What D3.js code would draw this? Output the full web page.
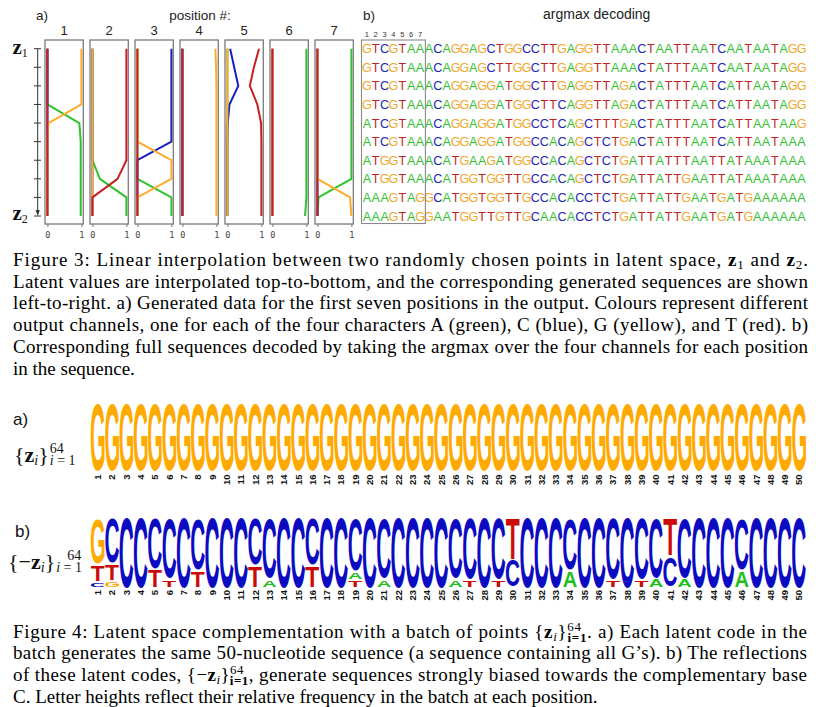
<!DOCTYPE html>
<html><head><meta charset="utf-8">
<script src="https://cdn.jsdelivr.net/npm/d3@7"></script>
<style>body{margin:0;background:#fff}svg{display:block}</style>
</head><body>
<svg id="chart" width="816" height="707"></svg>
<script>
// ---------------- DATA ----------------
const steps = [0,1,2,3,4,5,6,7,8,9];
const positions7 = [1,2,3,4,5,6,7];
const axisTickValues = [0,1];
// channel values per position (rows = positions 1..7, columns = interpolation steps z1..z2)
const interpA = [
  [0,0,0,0,0.94,0.98,0.98,0.98,0.98,0.98],
  [0,0,0,0,0,0,0,0.22,1,1],
  [0,0,0,0,0,0,0,0,1,1],
  [0,0,0,0,0,0,0,0,0,0],
  [0,0,0,0,0,0,0,0,0,0],
  [1,1,1,1,1,1,1,1,1,0.96],
  [1,1,1,1,1,1,1,1,0.03,0.01]
];
const interpC = [
  [0,0,0,0,0,0,0,0,0,0],
  [0,0,0,0,0,0,0,0,0,0],
  [1,1,1,1,1,1,0,0,0,0],
  [0,0,0,0,0,0,0,0,0,0],
  [0.08,0.2,0.32,0.06,0.01,0,0,0,0,0],
  [0,0,0,0,0,0,0,0,0,0],
  [0,0,0,0,0,0,0,0,0,0]
];
const interpG = [
  [1,1,1,1,0.03,0,0,0,0,0],
  [0,0,0,0,0,0,0,0,0,0],
  [0,0,0,0,0,0,1,1,0,0],
  [0.97,0.99,1,1,1,1,1,1,1,1],
  [0,0,0,0,0,0,0,0,0,0],
  [0,0,0,0,0,0,0,0,0,0],
  [0,0,0,0,0,0,0,0,0.96,1]
];
const interpT = [
  [0,0,0,0,0,0,0,0,0,0],
  [1,1,1,1,1,1,1,0.74,0,0],
  [0,0,0,0,0,0,0,0,0,0],
  [0,0,0,0,0,0,0,0,0,0],
  [0.93,0.78,0.66,0.88,0.99,1,1,1,1,1],
  [0,0,0,0,0,0,0,0,0,0],
  [0,0,0,0,0,0,0,0,0,0]
];
const sequences = [
  "GTCGTAAACAGGAGCTGGCCTTGAGGTTAAACTAATTAATCAATAATAGG",
  "GTCGTAAACAGGAGCTTGGCTTGAGGTTAAACTATTTAATCAATAATAGG",
  "GTCGTAAACAGGAGGATGGCTTGAGGTTAGACTATTTAATCATTAATAGG",
  "GTCGTAAACAGGAGGATGGCTTCAGGTTAGACTATTTAATCATTAATAGG",
  "ATCGTAAACAGGAGGATGGCCTCAGCTTTGACTATTTAATCATTAATAAG",
  "ATCGTAAACAGGAGGATGGCCACAGCTCTGACTATTTAATCATTAATAAA",
  "ATGGTAAACATGAAGATGGCCACAGCTCTGATTATTTAATTATAAATAAA",
  "ATGGTAAACATGGTGGTTGCCACAGCTCTGATTATTGAATTATAAATAAA",
  "AAAGTAGGCATGGTGGTTGCCACACCTCTGATTATTGAATGATGAAAAAA",
  "AAAGTAGGAATGGTTGTTGCAACACCTCTGATTATTGAATGATGAAAAAA"
];
const columnLabels = ["1","2","3","4","5","6","7"];
const logoPositions = [1,2,3,4,5,6,7,8,9,10,11,12,13,14,15,16,17,18,19,20,21,22,23,24,25,26,27,28,29,30,31,32,33,34,35,36,37,38,39,40,41,42,43,44,45,46,47,48,49,50];
// logo a) : frequencies per position
const logoA_A = [0,0,0,0,0,0,0,0,0,0,0,0,0,0,0,0,0,0,0,0,0,0,0,0,0,0,0,0,0,0,0,0,0,0,0,0,0,0,0,0,0,0,0,0,0,0,0,0,0,0];
const logoA_C = [0,0,0,0,0,0,0,0,0,0,0,0,0,0,0,0,0,0,0,0,0,0,0,0,0,0,0,0,0,0,0,0,0,0,0,0,0,0,0,0,0,0,0,0,0,0,0,0,0,0];
const logoA_G = [1,1,1,1,1,1,1,1,1,1,1,1,1,1,1,1,1,1,1,1,1,1,1,1,1,1,1,1,1,1,1,1,1,1,1,1,1,1,1,1,1,1,1,1,1,1,1,1,1,1];
const logoA_T = [0,0,0,0,0,0,0,0,0,0,0,0,0,0,0,0,0,0,0,0,0,0,0,0,0,0,0,0,0,0,0,0,0,0,0,0,0,0,0,0,0,0,0,0,0,0,0,0,0,0];
// logo b)
const logoB_A = [0,0,0,0,0,0,0,0,0,0,0,0,0.12,0,0,0,0,0,0.12,0,0.12,0,0,0,0,0.12,0,0,0,0,0,0,0,0.25,0,0,0,0,0,0.13,0,0.13,0,0,0,0.25,0,0,0,0];
const logoB_C = [0.08,0.66,1,1,0.74,0.88,1,0.75,1,1,1,0.68,0.88,1,1,0.68,1,1,0.77,1,0.88,1,1,1,1,0.88,0.89,1,0.89,0.40,1,1,1,0.75,1,1,0.89,1,0.89,0.87,0.45,0.87,1,1,1,0.75,1,1,1,1];
const logoB_G = [0.67,0.09,0,0,0,0,0,0,0,0,0,0,0,0,0,0,0,0,0,0,0,0,0,0,0,0,0,0,0,0,0,0,0,0,0,0,0,0,0,0,0,0,0,0,0,0,0,0,0,0];
const logoB_T = [0.25,0.25,0,0,0.26,0.12,0,0.25,0,0,0,0.32,0,0,0,0.32,0,0,0.11,0,0,0,0,0,0,0,0.11,0,0.11,0.60,0,0,0,0,0,0,0.11,0,0.11,0,0.55,0,0,0,0,0,0,0,0,0];

// ---------------- STYLE ----------------
const chanColors = {A:'#2ec22e', C:'#1c1cc0', G:'#ffab2e', T:'#c8201e'};
const seqColors  = {A:'#34c234', C:'#2424b8', G:'#f2a72a', T:'#bf2424'};
const logoColors = {A:'#1fbf1f', C:'#0b0bc2', G:'#ffaa00', T:'#cc0a0a'};
const SANS = 'Liberation Sans, Arial, Helvetica, sans-serif';
const SERIF = 'Liberation Serif, Times New Roman, serif';

const svg = d3.select('#chart');
svg.append('rect').attr('width',816).attr('height',707).attr('fill','#fff');

// ---------------- FIGURE 3a ----------------
const yStep = d3.scaleLinear().domain([0,9]).range([48.7,216]);
const panelBand = d3.scaleBand().domain(positions7).range([45,353.3]).paddingInner(0.149);
const channelData = {A:interpA, C:interpC, G:interpG, T:interpT};
const chanOrder = ['A','C','G','T'];

positions7.forEach((p,i)=>{
  const x0 = panelBand(p), bw = panelBand.bandwidth();
  const xs = d3.scaleLinear().domain([0,1]).range([x0+2.4, x0+bw-1.9]);
  const g = svg.append('g');
  g.append('rect').attr('x',x0).attr('y',40).attr('width',bw).attr('height',184)
    .attr('fill','none').attr('stroke','#7a7a7a').attr('stroke-width',1.3);
  const line = d3.line().x(d=>xs(d)).y((d,k)=>yStep(steps[k]));
  chanOrder.forEach(ch=>{
    g.append('path').attr('d', line(channelData[ch][i])).attr('fill','none')
      .attr('stroke', chanColors[ch]).attr('stroke-width',2).attr('stroke-linejoin','round');
  });
  const ax = g.append('g').attr('transform','translate(0,224)')
    .call(d3.axisBottom(xs).tickValues(axisTickValues).tickSize(3).tickPadding(5).tickFormat(d3.format('d')));
  ax.select('.domain').remove();
  ax.selectAll('line').attr('stroke','#777');
  ax.selectAll('text').attr('font-family','DejaVu Sans Mono, monospace').attr('font-size',8.5).attr('fill','#444');
  g.append('text').attr('x', x0+bw/2).attr('y',34.5).attr('text-anchor','middle')
    .attr('font-family',SANS).attr('font-size',13).attr('fill','#222').text(p);
});

// left axis with arrow
svg.append('line').attr('x1',37.7).attr('x2',37.7).attr('y1',yStep(0)).attr('y2',yStep(9)-2)
  .attr('stroke','#333').attr('stroke-width',1);
svg.append('g').selectAll('line').data(steps).join('line')
  .attr('x1',34).attr('x2',41).attr('y1',d=>yStep(d)).attr('y2',d=>yStep(d))
  .attr('stroke','#333').attr('stroke-width',1);
svg.append('path').attr('d',`M35.6,${yStep(9)-6} L39.8,${yStep(9)-6} L37.7,${yStep(9)} Z`).attr('fill','#333');

function zLabel(x,y,sub){
  const t = svg.append('text').attr('x',x).attr('y',y).attr('font-family',SERIF).attr('fill','#111');
  t.append('tspan').attr('font-weight','bold').attr('font-size',21).text('z');
  t.append('tspan').attr('font-size',12).attr('dy',3).text(sub);
}
zLabel(12.5,53.5,'1');
zLabel(12.5,219.5,'2');

svg.append('text').attr('x',36).attr('y',19.5).attr('font-family',SANS).attr('font-size',13.5).attr('fill','#222').text('a)');
svg.append('text').attr('x',200).attr('y',20).attr('text-anchor','middle').attr('font-family',SANS).attr('font-size',13.5).attr('fill','#222').text('position #:');

// ---------------- FIGURE 3b ----------------
const colBand = d3.scaleBand().domain(d3.range(50)).range([362.4,806]);
const cbw = colBand.bandwidth();
sequences.forEach((s,r)=>{
  svg.append('g').selectAll('text').data(s.split('')).join('text')
    .attr('x',(d,k)=>colBand(k)+cbw/2).attr('y',yStep(steps[r])+4.6)
    .attr('text-anchor','middle').attr('font-family',SANS).attr('font-size',12.6)
    .attr('fill',d=>seqColors[d]).text(d=>d);
});
svg.append('rect').attr('x',colBand(0)-0.9).attr('y',40).attr('width',7*cbw+1.8).attr('height',183.5)
  .attr('fill','none').attr('stroke','#8a8a8a').attr('stroke-width',1.1);
svg.append('g').selectAll('text').data(columnLabels).join('text')
  .attr('x',(d,k)=>colBand(k)+cbw/2).attr('y',36.5).attr('text-anchor','middle')
  .attr('font-family',SANS).attr('font-size',7.5).attr('fill','#333').text(d=>d);
svg.append('text').attr('x',363).attr('y',20).attr('font-family',SANS).attr('font-size',13.5).attr('fill','#222').text('b)');
svg.append('text').attr('x',543).attr('y',19).attr('font-family',SANS).attr('font-size',14).attr('fill','#222').text('argmax decoding');

// ---------------- FIGURE 4 logos ----------------
const logoX = d3.scaleBand().domain(logoPositions).range([90.6,806.2]);
const lbw = logoX.bandwidth();
const ctx = document.createElement('canvas').getContext('2d');
ctx.font = 'bold 100px "Liberation Sans"';
const metrics = {};
['A','C','G','T'].forEach(b=>{ metrics[b] = ctx.measureText(b); });

function drawGlyph(g, b, x, yTop, w, h){
  if (h <= 0.3) return;
  const m = metrics[b];
  const gw = m.actualBoundingBoxLeft + m.actualBoundingBoxRight;
  const gh = m.actualBoundingBoxAscent + m.actualBoundingBoxDescent;
  g.append('text').text(b).attr('font-family','Liberation Sans').attr('font-weight','bold').attr('font-size',100)
    .attr('fill',logoColors[b])
    .attr('transform',`translate(${x},${yTop}) scale(${w/gw},${h/gh}) translate(${m.actualBoundingBoxLeft},${m.actualBoundingBoxAscent})`);
}

function drawLogo(freqs, yScale, numTop){
  const g = svg.append('g');
  logoPositions.forEach((p,i)=>{
    const stack = ['A','C','G','T'].map(b=>({b, v:freqs[b][i]})).filter(d=>d.v>0).sort((a,b)=>a.v-b.v);
    let cum = 0;
    const gap = stack.length>1 ? 0.9 : 0;
    stack.forEach(d=>{
      const yB = yScale(cum), yT = yScale(cum+d.v);
      cum += d.v;
      drawGlyph(g, d.b, logoX(p)+0.3, yT+gap, lbw-0.6, (yB-yT)-2*gap);
    });
  });
  g.append('g').selectAll('text').data(logoPositions).join('text')
    .attr('transform',d=>`translate(${logoX(d)+lbw/2+3.4},${numTop}) rotate(-90)`)
    .attr('text-anchor','end').attr('font-family',SANS).attr('font-weight','bold')
    .attr('font-size',9.5).attr('fill','#111').text(d=>d);
}
drawLogo({A:logoA_A,C:logoA_C,G:logoA_G,T:logoA_T}, d3.scaleLinear().domain([0,1]).range([471,403.3]), 474.5);
drawLogo({A:logoB_A,C:logoB_C,G:logoB_G,T:logoB_T}, d3.scaleLinear().domain([0,1]).range([587.5,518]), 590);

svg.append('text').attr('x',13).attr('y',425).attr('font-family',SANS).attr('font-size',17).attr('fill','#111').text('a)');
svg.append('text').attr('x',15).attr('y',537).attr('font-family',SANS).attr('font-size',17).attr('fill','#111').text('b)');

function setLabel(x, y, neg, supX, subX){
  const t = svg.append('text').attr('x',x).attr('y',y).attr('font-family',SERIF).attr('font-size',22).attr('fill','#111');
  t.append('tspan').text(neg ? '{−' : '{');
  t.append('tspan').attr('font-weight','bold').text('z');
  t.append('tspan').attr('font-style','italic').attr('font-size',14).attr('dy',3).text('i');
  t.append('tspan').attr('dy',-3).text('}');
  const endX = x + t.node().getComputedTextLength();
  svg.append('text').attr('x',endX+supX).attr('y',y-8.5).attr('font-family',SERIF).attr('font-size',14).attr('fill','#111').text('64');
  const s = svg.append('text').attr('x',endX+subX).attr('y',y+3.5).attr('font-family',SERIF).attr('font-size',14).attr('fill','#111');
  s.append('tspan').attr('font-style','italic').text('i');
  s.append('tspan').text(' = 1');
}
setLabel(14, 461.5, false, 1, 1);
setLabel(8, 568.5, true, 12, 1);

// ---------------- CAPTIONS ----------------
function captionLine(parts, x, y, len){
  const t = svg.append('text').attr('x',x).attr('y',y).attr('font-family',SERIF).attr('font-size',19).attr('fill','#000');
  parts.forEach(p=>{
    const ts = t.append('tspan').text(p.t);
    if (p.b) ts.attr('font-weight','bold');
    if (p.i) ts.attr('font-style','italic');
    if (p.fs) ts.attr('font-size',p.fs);
    if (p.dy) ts.attr('dy',p.dy);
    if (p.dx) ts.attr('dx',p.dx);
  });
  if (len){
    const nat = t.node().getComputedTextLength();
    t.attr('textLength',len).attr('lengthAdjust', nat > len ? 'spacingAndGlyphs' : 'spacing');
  }
}
const fig3Caption = [
  [{t:'Figure 3: Linear interpolation between two randomly chosen points in latent space, '},{t:'z',b:1},{t:'1',fs:13,dy:3},{t:' and ',dy:-3},{t:'z',b:1},{t:'2',fs:13,dy:3},{t:'.',dy:-3}],
  [{t:'Latent values are interpolated top-to-bottom, and the corresponding generated sequences are shown'}],
  [{t:'left-to-right. a) Generated data for the first seven positions in the output. Colours represent different'}],
  [{t:'output channels, one for each of the four characters A (green), C (blue), G (yellow), and T (red). b)'}],
  [{t:'Corresponding full sequences decoded by taking the argmax over the four channels for each position'}],
  [{t:'in the sequence.'}]
];
const fig4Caption = [
  [{t:'Figure 4: Latent space complementation with a batch of points {'},{t:'z',b:1},{t:'i',i:1,fs:13,dy:3},{t:'}',dy:-3},{t:'64',fs:13,dy:-7},{t:'i=1',fs:13,b:1,dx:-14,dy:11},{t:'. a) Each latent code in the',dy:-4}],
  [{t:'batch generates the same 50-nucleotide sequence (a sequence containing all G’s). b) The reflections'}],
  [{t:'of these latent codes, {−'},{t:'z',b:1},{t:'i',i:1,fs:13,dy:3},{t:'}',dy:-3},{t:'64',fs:13,dy:-7},{t:'i=1',fs:13,b:1,dx:-14,dy:11},{t:', generate sequences strongly biased towards the complementary base',dy:-4}],
  [{t:'C. Letter heights reflect their relative frequency in the batch at each position.'}]
];
fig3Caption.forEach((parts,k)=>captionLine(parts, 13, 266+21.7*k, k<5 ? 795 : null));
fig4Caption.forEach((parts,k)=>captionLine(parts, 13, 637.5+21.7*k, k<3 ? 794 : null));
</script>
</body></html>
